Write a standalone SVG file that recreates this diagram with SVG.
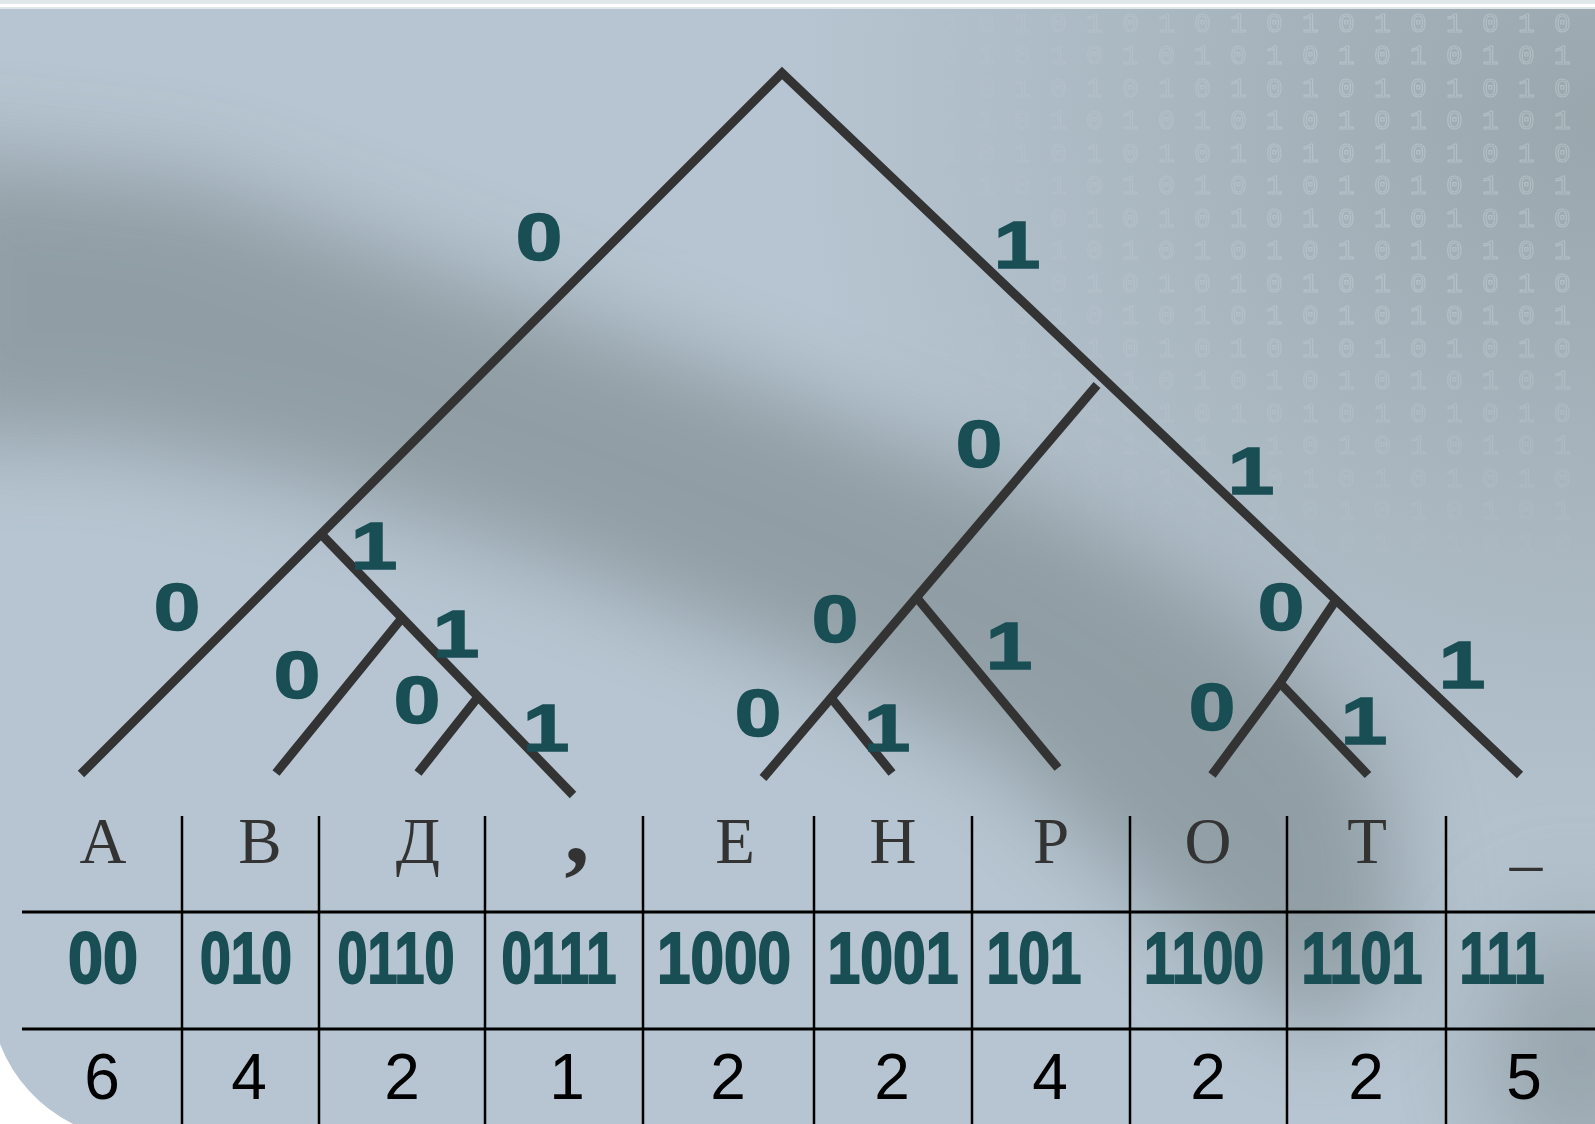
<svg xmlns="http://www.w3.org/2000/svg" width="1595" height="1124" viewBox="0 0 1595 1124">
<defs>
<style>
.edge{fill:none;stroke:#333333;stroke-width:9;stroke-linecap:butt;stroke-linejoin:miter}
.lbl{font-family:"Liberation Sans",Arial,sans-serif;font-weight:bold;font-size:67px;fill:#1a4e55;stroke:#1a4e55;stroke-width:1.5;text-anchor:middle}
.let{font-family:"Liberation Serif","Times New Roman",serif;font-size:65px;fill:#333333;text-anchor:middle}
.code{font-family:"Liberation Sans",Arial,sans-serif;font-weight:bold;font-size:73px;fill:#1a4e55;stroke:#1a4e55;stroke-width:2;text-anchor:middle}
.cnt{font-family:"Liberation Sans",Arial,sans-serif;font-size:64px;fill:#000000;text-anchor:middle}
.grid{stroke:#000000;fill:none}
.bin{font-family:"Liberation Mono",monospace;font-size:28px;fill:none;stroke:#d3dce1;stroke-width:1.2;letter-spacing:19.2px}
</style>
<clipPath id="panelClip"><path d="M0,9 H1595 V1124 H73 A150 150 0 0 1 0 1044 Z"/></clipPath>
<filter id="blur" x="-30%" y="-30%" width="160%" height="160%"><feGaussianBlur stdDeviation="45"/></filter>
<filter id="blur2" x="-50%" y="-50%" width="200%" height="200%"><feGaussianBlur stdDeviation="60"/></filter>
<radialGradient id="grayTR" cx="1595" cy="120" r="800" gradientUnits="userSpaceOnUse">
<stop offset="0" stop-color="#97a3a9" stop-opacity="0.9"/>
<stop offset="1" stop-color="#97a3a9" stop-opacity="0"/>
</radialGradient>
<linearGradient id="fadeX" x1="860" y1="0" x2="1350" y2="0" gradientUnits="userSpaceOnUse">
<stop offset="0" stop-color="#000"/><stop offset="1" stop-color="#fff"/>
</linearGradient>
<linearGradient id="fadeY" x1="0" y1="300" x2="0" y2="600" gradientUnits="userSpaceOnUse">
<stop offset="0" stop-color="#fff"/><stop offset="1" stop-color="#000"/>
</linearGradient>
<mask id="mX"><rect width="1595" height="1124" fill="url(#fadeX)"/></mask>
<mask id="mY"><rect width="1595" height="1124" fill="url(#fadeY)"/></mask>
</defs>

<g id="background">
<rect x="0" y="0" width="1595" height="1124" fill="#ffffff"/>
<rect x="0" y="0" width="1595" height="9" fill="#dfe7eb"/>
<rect x="0" y="4" width="1595" height="3" fill="#ffffff"/>
<g clip-path="url(#panelClip)">
<rect x="0" y="9" width="1595" height="1115" fill="#b6c5d1"/>
<rect x="0" y="9" width="1595" height="1115" fill="url(#grayTR)"/>
<path d="M-80,150 L200,180 L500,290 L800,400 L1050,500 L1250,620 L1380,760 L1410,950 L1320,1040 L1160,910 L1000,760 L800,660 L550,560 L300,480 L100,440 L-80,440 Z" fill="#8a979d" opacity="0.85" filter="url(#blur)"/>
<ellipse cx="1580" cy="1050" rx="90" ry="130" fill="#8a979d" opacity="0.8" filter="url(#blur2)"/>
<g mask="url(#mY)"><g mask="url(#mX)" opacity="0.4">
<text class="bin" x="906" y="32">0101010101010101010</text>
<text class="bin" x="906" y="64">1010101010101010101</text>
<text class="bin" x="906" y="97">0101010101010101010</text>
<text class="bin" x="906" y="129">1010101010101010101</text>
<text class="bin" x="906" y="162">0101010101010101010</text>
<text class="bin" x="906" y="194">1010101010101010101</text>
<text class="bin" x="1050" y="227">010101010101010</text>
<text class="bin" x="1050" y="259">101010101010101</text>
<text class="bin" x="1050" y="292">010101010101010</text>
<text class="bin" x="906" y="324">1010101010101010101</text>
<text class="bin" x="906" y="357">0101010101010101010</text>
<text class="bin" x="906" y="389">1010101010101010101</text>
<text class="bin" x="1014" y="422">1010101010101010</text>
<text class="bin" x="1014" y="454">010101</text>
<text class="bin" x="1266" y="454">101010101</text>
<text class="bin" x="1014" y="487">101010</text>
<text class="bin" x="1266" y="487">010101010</text>
<text class="bin" x="906" y="519">101010101</text>
<text class="bin" x="1266" y="519">101010101</text>
<text class="bin" x="906" y="552">0101010101010101010</text>
</g></g>
</g>
</g>

<g id="connectors">
<polyline class="edge" points="81,774 782,73 1520,775"/>
<line class="edge" x1="321" y1="534" x2="573" y2="795"/>
<line class="edge" x1="402" y1="618" x2="276" y2="773"/>
<line class="edge" x1="478" y1="697" x2="418" y2="773"/>
<line class="edge" x1="1097" y1="385" x2="763" y2="778"/>
<line class="edge" x1="832" y1="699" x2="892" y2="773"/>
<line class="edge" x1="917" y1="598" x2="1058" y2="768"/>
<polyline class="edge" points="1336,600 1280,683 1212,775"/>
<line class="edge" x1="1280" y1="683" x2="1368" y2="775"/>
</g>

<g id="edge-labels">
<text class="lbl" transform="translate(539,260) scale(1.25,1)">0</text>
<text class="lbl" transform="translate(1017,268) scale(1.25,1)">1</text>
<text class="lbl" transform="translate(979,467) scale(1.25,1)">0</text>
<text class="lbl" transform="translate(1251,494) scale(1.25,1)">1</text>
<text class="lbl" transform="translate(374,569) scale(1.25,1)">1</text>
<text class="lbl" transform="translate(177,630) scale(1.25,1)">0</text>
<text class="lbl" transform="translate(297,698) scale(1.25,1)">0</text>
<text class="lbl" transform="translate(456,657) scale(1.25,1)">1</text>
<text class="lbl" transform="translate(417,723) scale(1.25,1)">0</text>
<text class="lbl" transform="translate(546,751) scale(1.25,1)">1</text>
<text class="lbl" transform="translate(835,642) scale(1.25,1)">0</text>
<text class="lbl" transform="translate(758,736) scale(1.25,1)">0</text>
<text class="lbl" transform="translate(887,751) scale(1.25,1)">1</text>
<text class="lbl" transform="translate(1009,669) scale(1.25,1)">1</text>
<text class="lbl" transform="translate(1281,630) scale(1.25,1)">0</text>
<text class="lbl" transform="translate(1212,730) scale(1.25,1)">0</text>
<text class="lbl" transform="translate(1364,744) scale(1.25,1)">1</text>
<text class="lbl" transform="translate(1462,688) scale(1.25,1)">1</text>
</g>

<g id="table-grid" class="grid">
<line x1="22" y1="912" x2="1595" y2="912" stroke-width="3"/>
<line x1="22" y1="1029" x2="1595" y2="1029" stroke-width="3"/>
<line x1="182" y1="816" x2="182" y2="1124" stroke-width="2.5"/>
<line x1="319" y1="816" x2="319" y2="1124" stroke-width="2.5"/>
<line x1="485" y1="816" x2="485" y2="1124" stroke-width="2.5"/>
<line x1="643" y1="816" x2="643" y2="1124" stroke-width="2.5"/>
<line x1="814" y1="816" x2="814" y2="1124" stroke-width="2.5"/>
<line x1="972" y1="816" x2="972" y2="1124" stroke-width="2.5"/>
<line x1="1130" y1="816" x2="1130" y2="1124" stroke-width="2.5"/>
<line x1="1287" y1="816" x2="1287" y2="1124" stroke-width="2.5"/>
<line x1="1446" y1="816" x2="1446" y2="1124" stroke-width="2.5"/>
</g>

<g id="col-A"><text class="let" x="103" y="863">А</text><text class="code" x="103" y="983" textLength="70" lengthAdjust="spacingAndGlyphs">00</text><text class="cnt" x="102" y="1099">6</text></g>
<g id="col-V"><text class="let" x="260" y="863">В</text><text class="code" x="246" y="983" textLength="92" lengthAdjust="spacingAndGlyphs">010</text><text class="cnt" x="249" y="1099">4</text></g>
<g id="col-D"><text class="let" x="418" y="863">Д</text><text class="code" x="396" y="983" textLength="117" lengthAdjust="spacingAndGlyphs">0110</text><text class="cnt" x="402" y="1099">2</text></g>
<g id="col-comma"><text class="let" x="577" y="863" style="font-size:100px;font-weight:bold">,</text><text class="code" x="559" y="983" textLength="115" lengthAdjust="spacingAndGlyphs">0111</text><text class="cnt" x="567" y="1099">1</text></g>
<g id="col-E"><text class="let" x="735" y="863">Е</text><text class="code" x="724" y="983" textLength="134" lengthAdjust="spacingAndGlyphs">1000</text><text class="cnt" x="728" y="1099">2</text></g>
<g id="col-N"><text class="let" x="893" y="863">Н</text><text class="code" x="893" y="983" textLength="131" lengthAdjust="spacingAndGlyphs">1001</text><text class="cnt" x="892" y="1099">2</text></g>
<g id="col-R"><text class="let" x="1051" y="863">Р</text><text class="code" x="1034" y="983" textLength="95" lengthAdjust="spacingAndGlyphs">101</text><text class="cnt" x="1050" y="1099">4</text></g>
<g id="col-O"><text class="let" x="1208" y="863">О</text><text class="code" x="1204" y="983" textLength="120" lengthAdjust="spacingAndGlyphs">1100</text><text class="cnt" x="1208" y="1099">2</text></g>
<g id="col-T"><text class="let" x="1367" y="863">Т</text><text class="code" x="1362" y="983" textLength="121" lengthAdjust="spacingAndGlyphs">1101</text><text class="cnt" x="1366" y="1099">2</text></g>
<g id="col-space"><text class="let" x="1526" y="863">_</text><text class="code" x="1502" y="983" textLength="85" lengthAdjust="spacingAndGlyphs">111</text><text class="cnt" x="1524" y="1099">5</text></g>
</svg>
